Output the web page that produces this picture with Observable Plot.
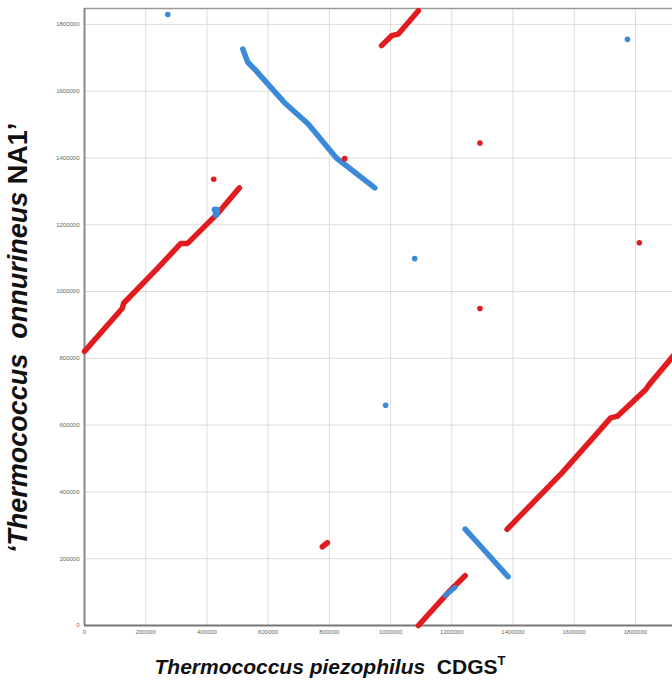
<!DOCTYPE html>
<html>
<head>
<meta charset="utf-8">
<script src="https://cdn.jsdelivr.net/npm/d3@7"></script>
<script src="https://cdn.jsdelivr.net/npm/@observablehq/plot@0.6"></script>
<style>
  html, body { margin: 0; padding: 0; background: #fff; overflow: hidden; }
  #chart { width: 672px; height: 693px; }
</style>
</head>
<body>
<div id="chart"></div>
<script>
// Genome lengths (axis extents)
const xGenomeLength = 1929652; // Thermococcus piezophilus CDGS^T
const yGenomeLength = 1847607; // 'Thermococcus onnurineus NA1'
const tickValues = [0, 200000, 400000, 600000, 800000, 1000000, 1200000, 1400000, 1600000, 1800000];

// Forward (red) match runs, [x, y] vertices
const redRunA = [[0, 821000], [123600, 950000], [127900, 965000], [238400, 1069600], [314800, 1144200], [336800, 1144200], [413200, 1214000], [435100, 1233700], [506000, 1310400]];
const redRunB = [[970600, 1736300], [1003400, 1766200], [1025300, 1771100], [1090900, 1841000]];
const redRunC = [[1091000, 0], [1189000, 99400], [1243700, 149000]];
const redRunD = [[1380500, 288000], [1560800, 457600], [1681100, 582100], [1719100, 621800], [1741100, 626900], [1834000, 706600], [1845000, 721300], [1929652, 814000]];
const redRunE = [[777000, 235800], [793500, 247800]];

// Reverse (blue) match runs
const blueRunA = [[517100, 1726200], [533500, 1686600], [555100, 1666600], [653500, 1565600], [730200, 1502400], [823000, 1400000], [948600, 1310400]];
const blueRunB = [[1243700, 288600], [1293000, 238800], [1383800, 146300]];
const blueRunC = [[1178000, 89500], [1211000, 114300]];

// Isolated matches
const redSingles = [[422000, 1336400], [850200, 1398000], [1292000, 1444700], [1292000, 949200], [1812700, 1146200]];
const blueSingles = [[272200, 1829800], [1774000, 1755200], [1078800, 1098500], [983700, 659700]];
const blueCluster = [[426000, 1245000], [432000, 1236000], [429000, 1230000], [433000, 1244000]];

const RED = "#e21b1f";
const BLUE = "#3a8ad9";

function rows(run, id, strand) {
  return run.map(([x, y]) => ({x, y, id, strand}));
}
const redLines = [
  ...rows(redRunA, "rA", "forward"), ...rows(redRunB, "rB", "forward"),
  ...rows(redRunC, "rC", "forward"), ...rows(redRunD, "rD", "forward"),
  ...rows(redRunE, "rE", "forward")
];
const blueLines = [
  ...rows(blueRunA, "bA", "reverse"), ...rows(blueRunB, "bB", "reverse")
];
const blueOverlay = rows(blueRunC, "bC", "reverse");
const redDots = rows(redSingles, "rs", "forward");
const blueDots = rows(blueSingles, "bs", "reverse");
const blueClusterDots = rows(blueCluster, "bcl", "reverse");

const fmt = d3.format("d");

const chart = Plot.plot({
  width: 672,
  height: 693,
  marginTop: 8,
  marginBottom: 68,
  marginLeft: 84,
  marginRight: 0,
  style: {background: "#fff", fontFamily: "Liberation Sans, Arial, sans-serif"},
  x: {domain: [0, xGenomeLength], range: [84, 674.6], ticks: tickValues, tickFormat: fmt},
  y: {domain: [0, yGenomeLength], ticks: tickValues, tickFormat: fmt},
  color: {domain: ["forward", "reverse"], range: [RED, BLUE]},
  marks: [
    Plot.gridX(tickValues, {stroke: "#dcdcdc", strokeOpacity: 1, strokeWidth: 1}),
    Plot.gridY(tickValues, {stroke: "#dcdcdc", strokeOpacity: 1, strokeWidth: 1}),
    Plot.axisX(tickValues, {tickSize: 0, tickPadding: 4, fontSize: 6, fill: "#666", tickFormat: fmt, label: null}),
    Plot.axisY(tickValues, {tickSize: 0, tickPadding: 5, fontSize: 6, fill: "#666", tickFormat: fmt, label: null}),
    Plot.ruleY([yGenomeLength], {stroke: "#9a9a9a", strokeWidth: 1.5}),
    Plot.ruleX([0], {stroke: "#8a8a8a", strokeWidth: 2}),
    Plot.ruleY([0], {stroke: "#777", strokeWidth: 2}),
    Plot.line(redLines, {x: "x", y: "y", z: "id", stroke: "strand", strokeWidth: 5.5, strokeLinecap: "round", strokeLinejoin: "round"}),
    Plot.line(blueLines, {x: "x", y: "y", z: "id", stroke: "strand", strokeWidth: 5.5, strokeLinecap: "round", strokeLinejoin: "round"}),
    Plot.line(blueOverlay, {x: "x", y: "y", z: "id", stroke: "strand", strokeWidth: 5, strokeLinecap: "round"}),
    Plot.dot(blueClusterDots, {x: "x", y: "y", fill: "strand", r: 3.2}),
    Plot.dot(redDots, {x: "x", y: "y", fill: "strand", r: 2.8}),
    Plot.dot(blueDots, {x: "x", y: "y", fill: "strand", r: 2.8})
  ]
});

const svg = d3.select(chart);
// Y axis title
const yt = svg.append("text")
  .attr("transform", "translate(27,338) rotate(-90)")
  .attr("text-anchor", "middle")
  .attr("font-family", "Liberation Sans, Arial, sans-serif")
  .attr("font-weight", "bold")
  .attr("font-size", 27)
  .attr("fill", "#111");
yt.append("tspan").attr("font-style", "italic").text("\u2018Thermococcus\u00a0 onnurineus");
yt.append("tspan").text(" NA1\u2019");

// X axis title
const xt = svg.append("text")
  .attr("x", 330).attr("y", 674)
  .attr("text-anchor", "middle")
  .attr("font-family", "Liberation Sans, Arial, sans-serif")
  .attr("font-weight", "bold")
  .attr("font-size", 21)
  .attr("fill", "#111");
xt.append("tspan").attr("font-style", "italic").text("Thermococcus piezophilus");
xt.append("tspan").text("\u00a0 CDGS");
xt.append("tspan").attr("font-size", 13).attr("dy", -9).text("T");

document.getElementById("chart").appendChild(chart);
</script>
</body>
</html>
